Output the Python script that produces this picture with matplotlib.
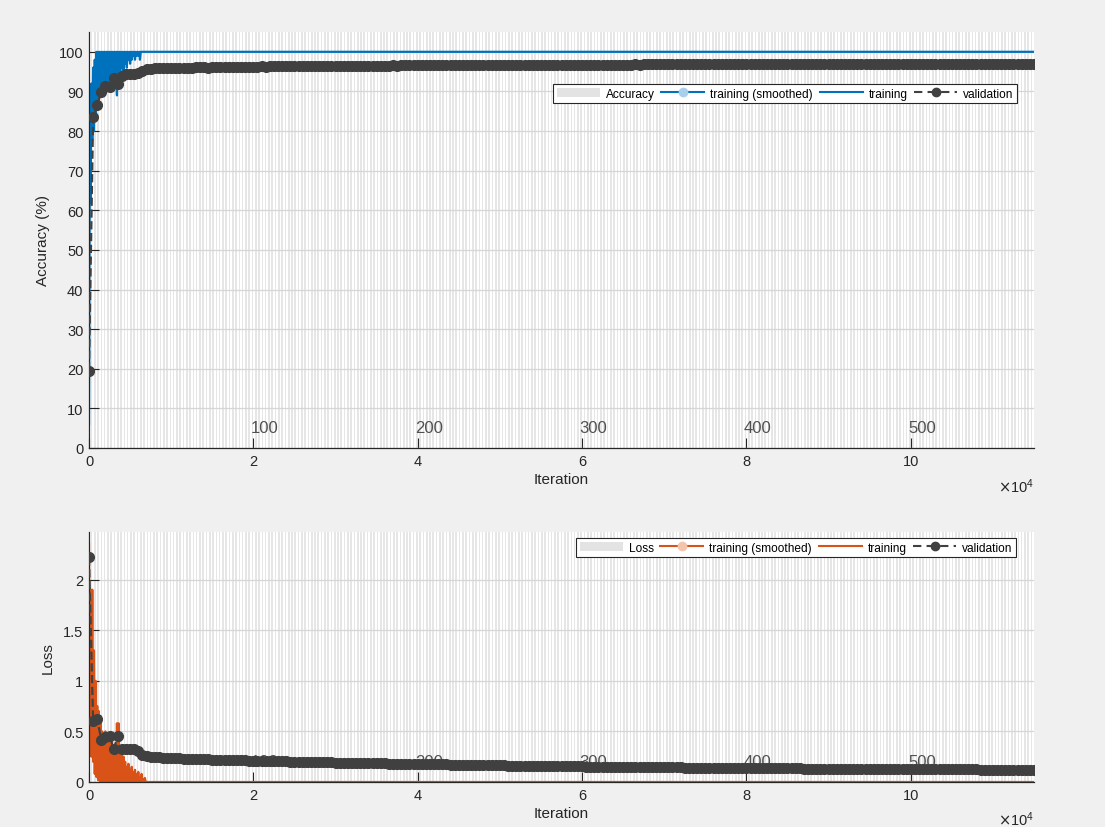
import numpy as np
import matplotlib
matplotlib.use("Agg")
import matplotlib.pyplot as plt
from matplotlib.lines import Line2D
from matplotlib.patches import Patch
from matplotlib.transforms import blended_transform_factory

plt.rcParams['font.family'] = ['Liberation Sans', 'DejaVu Sans']

## Datos
iters_per_epoch = 200
n_epochs = 575
max_iter = 115000
epoch_labels = [100, 200, 300, 400, 500]

train_step = 100   # entrenamiento: un valor cada 100 iteraciones (0..7200)
val_step = 500     # validacion: un valor cada 500 iteraciones (0..115000)

train_acc = [6, 75, 62, 92, 78, 96, 80, 98, 84, 100,
             86, 100, 88, 100, 89, 100, 90, 100, 89, 100,
             91, 100, 90, 100, 92, 100, 91, 100, 93, 100,
             92, 100, 94, 100, 89, 100, 94, 100, 95, 100,
             96, 100, 95, 100, 97, 100, 96, 100, 98, 100,
             97, 100, 98, 100, 99, 100, 98, 100, 99, 100,
             99, 100, 98, 100, 100, 100, 100, 100, 100, 100,
             100, 100, 100]

train_loss = [2.35, 0.28, 1.90, 0.25, 1.90, 0.20, 1.30, 0.08, 1.00, 0.05,
              0.75, 0.02, 0.70, 0.01, 0.65, 0.0, 0.50, 0.0, 0.48, 0.0,
              0.50, 0.0, 0.45, 0.0, 0.45, 0.0, 0.45, 0.0, 0.40, 0.0,
              0.30, 0.0, 0.35, 0.0, 0.58, 0.0, 0.58, 0.0, 0.30, 0.0,
              0.28, 0.0, 0.25, 0.0, 0.20, 0.0, 0.15, 0.0, 0.18, 0.0,
              0.12, 0.0, 0.15, 0.0, 0.10, 0.0, 0.12, 0.0, 0.08, 0.0,
              0.10, 0.0, 0.05, 0.0, 0.08, 0.0, 0.03, 0.0, 0.04, 0.0,
              0.0, 0.0, 0.0]

val_acc = [19.5, 83.6, 86.5, 89.9, 91.4, 91.0, 93.5, 91.8, 93.9, 94.3,
           94.5, 94.4, 94.6, 95.2, 95.6, 95.7, 95.8, 95.8, 95.9, 95.9,
           96.0, 96.0, 96.0, 96.0, 96.0, 96.0, 96.1, 96.1, 96.1, 96.0,
           96.1, 96.1, 96.1, 96.1, 96.2, 96.1, 96.2, 96.2, 96.2, 96.2,
           96.2, 96.2, 96.3, 96.2, 96.3, 96.3, 96.3, 96.3, 96.3, 96.3,
           96.4, 96.3, 96.4, 96.4, 96.4, 96.4, 96.4, 96.4, 96.4, 96.4,
           96.4, 96.5, 96.4, 96.5, 96.5, 96.5, 96.5, 96.5, 96.5, 96.5,
           96.5, 96.5, 96.5, 96.5, 96.6, 96.5, 96.6, 96.6, 96.6, 96.6,
           96.6, 96.6, 96.6, 96.6, 96.6, 96.6, 96.6, 96.6, 96.6, 96.6,
           96.6, 96.6, 96.6, 96.6, 96.6, 96.6, 96.6, 96.7, 96.6, 96.7,
           96.6, 96.7, 96.7, 96.7, 96.7, 96.7, 96.7, 96.7, 96.7, 96.7,
           96.7, 96.7, 96.7, 96.7, 96.7, 96.7, 96.7, 96.7, 96.7, 96.7,
           96.7, 96.7, 96.7, 96.7, 96.7, 96.7, 96.7, 96.7, 96.7, 96.7,
           96.7, 96.7, 96.7, 96.8, 96.7, 96.8, 96.8, 96.8, 96.8, 96.8,
           96.8, 96.8, 96.8, 96.8, 96.8, 96.8, 96.8, 96.8, 96.8, 96.8,
           96.8, 96.8, 96.8, 96.8, 96.8, 96.8, 96.8, 96.8, 96.8, 96.8,
           96.8, 96.8, 96.8, 96.8, 96.8, 96.8, 96.9, 96.8, 96.8, 96.8,
           96.8, 96.8, 96.8, 96.8, 96.9, 96.8, 96.8, 96.9, 96.9, 96.8,
           96.9, 96.9, 96.9, 96.9, 96.9, 96.9, 96.9, 96.9, 96.9, 96.9,
           96.9, 96.9, 96.9, 96.9, 96.9, 96.9, 96.9, 96.9, 96.9, 96.9,
           96.9, 96.9, 96.9, 96.9, 96.9, 96.9, 96.9, 96.9, 96.9, 96.9,
           96.9, 96.9, 96.9, 96.9, 96.9, 96.9, 96.9, 96.9, 96.9, 96.9,
           96.9, 96.9, 96.9, 96.9, 96.9, 96.9, 96.9, 96.9, 96.9, 96.9,
           96.9]

val_loss = [2.22, 0.60, 0.62, 0.415, 0.44, 0.457, 0.326, 0.45, 0.33, 0.33,
            0.33, 0.325, 0.31, 0.27, 0.255, 0.25, 0.245, 0.243, 0.240, 0.238,
            0.236, 0.235, 0.233, 0.232, 0.230, 0.229, 0.228, 0.226, 0.225, 0.224,
            0.222, 0.221, 0.220, 0.219, 0.217, 0.216, 0.215, 0.214, 0.213, 0.212,
            0.210, 0.209, 0.209, 0.208, 0.207, 0.206, 0.205, 0.204, 0.203, 0.202,
            0.201, 0.200, 0.199, 0.198, 0.197, 0.196, 0.196, 0.195, 0.194, 0.193,
            0.192, 0.191, 0.190, 0.190, 0.189, 0.188, 0.187, 0.186, 0.186, 0.185,
            0.184, 0.183, 0.183, 0.182, 0.181, 0.181, 0.180, 0.180, 0.179, 0.178,
            0.178, 0.177, 0.176, 0.176, 0.175, 0.174, 0.174, 0.173, 0.172, 0.172,
            0.171, 0.170, 0.170, 0.169, 0.168, 0.168, 0.167, 0.166, 0.166, 0.165,
            0.165, 0.164, 0.163, 0.163, 0.162, 0.162, 0.161, 0.160, 0.160, 0.159,
            0.159, 0.158, 0.158, 0.157, 0.157, 0.156, 0.156, 0.155, 0.155, 0.154,
            0.154, 0.153, 0.153, 0.152, 0.152, 0.151, 0.151, 0.151, 0.150, 0.150,
            0.149, 0.149, 0.148, 0.148, 0.148, 0.147, 0.147, 0.146, 0.146, 0.146,
            0.145, 0.145, 0.144, 0.144, 0.144, 0.143, 0.143, 0.142, 0.142, 0.142,
            0.141, 0.141, 0.141, 0.140, 0.140, 0.140, 0.139, 0.139, 0.139, 0.138,
            0.138, 0.138, 0.137, 0.137, 0.137, 0.136, 0.136, 0.136, 0.135, 0.135,
            0.135, 0.134, 0.134, 0.134, 0.133, 0.133, 0.133, 0.133, 0.132, 0.132,
            0.132, 0.131, 0.131, 0.131, 0.131, 0.130, 0.130, 0.130, 0.130, 0.129,
            0.129, 0.129, 0.129, 0.128, 0.128, 0.128, 0.128, 0.127, 0.127, 0.127,
            0.127, 0.127, 0.126, 0.126, 0.126, 0.126, 0.126, 0.125, 0.125, 0.125,
            0.125, 0.125, 0.124, 0.124, 0.124, 0.124, 0.124, 0.123, 0.123, 0.123,
            0.123, 0.123, 0.122, 0.122, 0.122, 0.122, 0.122, 0.121, 0.121, 0.121,
            0.121]

## Colores
BG = '#f0f0f0'
SHADE = '#e6e6e6'
TXT = '#262626'
BLUE = '#0072BD'
BLUE_L = '#a8cfec'
ORANGE = '#D95319'
ORANGE_L = '#f4c4ab'
VAL = '#404040'

train_x = list(np.arange(len(train_acc)) * train_step) + [max_iter]
val_x = np.arange(len(val_acc)) * val_step


def preparar_ejes(ax, ylim, yticks, ylabel, label_off):
    # sombreado alterno por epoca
    spans = [(e * iters_per_epoch, iters_per_epoch) for e in range(1, n_epochs, 2)]
    ax.broken_barh(spans, (ylim[0], ylim[1] - ylim[0]), facecolors=SHADE,
                   edgecolor='none', zorder=0.2)
    ax.set_xlim(0, max_iter)
    ax.set_ylim(*ylim)
    ax.set_yticks(yticks)
    ax.set_xticks(np.arange(0, 110001, 20000))
    ax.set_xticklabels([str(int(v / 10000)) for v in np.arange(0, 110001, 20000)])
    ax.set_axisbelow(True)
    ax.grid(axis='y', color='#d6d6d6', linewidth=0.9)
    for s in ['top', 'right']:
        ax.spines[s].set_visible(False)
    for s in ['left', 'bottom']:
        ax.spines[s].set_color(TXT)
        ax.spines[s].set_linewidth(0.9)
    ax.tick_params(direction='in', length=7, width=0.8, colors=TXT,
                   labelsize=10.5, pad=4)
    ax.set_ylabel(ylabel, fontsize=11, color=TXT, labelpad=6)
    ax.set_xlabel('Iteration', fontsize=11, color=TXT, labelpad=3)
    ax.text(1.0, label_off, r'$\times\mathregular{10^{4}}$', transform=ax.transAxes,
            ha='right', va='top', fontsize=10.5, color=TXT)
    trans = blended_transform_factory(ax.transData, ax.transAxes)
    for ep in epoch_labels:
        ax.annotate(str(ep), xy=(ep * iters_per_epoch, 0), xycoords=trans,
                    xytext=(-2, 9), textcoords='offset points',
                    ha='left', va='bottom', fontsize=12, color='#505050', zorder=1)


def leyenda(ax, color, color_l, nombre, anchor):
    h = [Patch(facecolor='#e3e3e3', edgecolor='none'),
         Line2D([], [], color=color, marker='o', markersize=6,
                markerfacecolor=color_l, markeredgecolor=color_l, linewidth=1.5),
         Line2D([], [], color=color, linewidth=1.5),
         Line2D([], [], color=VAL, linestyle='--', dashes=(4, 2.5), marker='o',
                markersize=6, linewidth=1.5)]
    leg = ax.legend(h, [nombre, 'training (smoothed)', 'training', 'validation'],
                    loc='upper right', bbox_to_anchor=anchor, ncol=4,
                    fontsize=8.6, frameon=True, fancybox=False, framealpha=1,
                    edgecolor='#262626', handlelength=3.6, handletextpad=0.5,
                    columnspacing=0.55, borderpad=0.3, borderaxespad=0)
    leg.get_frame().set_linewidth(0.8)


fig = plt.figure(figsize=(11.05, 8.28), dpi=100, facecolor=BG)
ax1 = fig.add_axes([89 / 1105, 1 - 449 / 828, 945 / 1105, 416 / 828])
ax2 = fig.add_axes([89 / 1105, 1 - 783 / 828, 945 / 1105, 250 / 828])

## Precision
preparar_ejes(ax1, (0, 105), np.arange(0, 101, 10), 'Accuracy (%)', -0.068)
ax1.plot(train_x, train_acc + [100], color=BLUE, linewidth=1.6, zorder=2)
ax1.plot(val_x, val_acc, color=VAL, linestyle='--', linewidth=1.6,
         marker='o', markersize=7, zorder=3)
leyenda(ax1, BLUE, BLUE_L, 'Accuracy', (0.982, 0.875))

## Perdida
preparar_ejes(ax2, (0, 2.47), [0, 0.5, 1, 1.5, 2], 'Loss', -0.11)
ax2.set_yticklabels(['0', '0.5', '1', '1.5', '2'])
ax2.plot(train_x, train_loss + [0.0], color=ORANGE, linewidth=1.6, zorder=2)
ax2.plot(val_x, val_loss, color=VAL, linestyle='--', linewidth=1.6,
         marker='o', markersize=7, zorder=3)
leyenda(ax2, ORANGE, ORANGE_L, 'Loss', (0.981, 0.976))

fig.savefig('out.png', dpi=100, facecolor=BG)
